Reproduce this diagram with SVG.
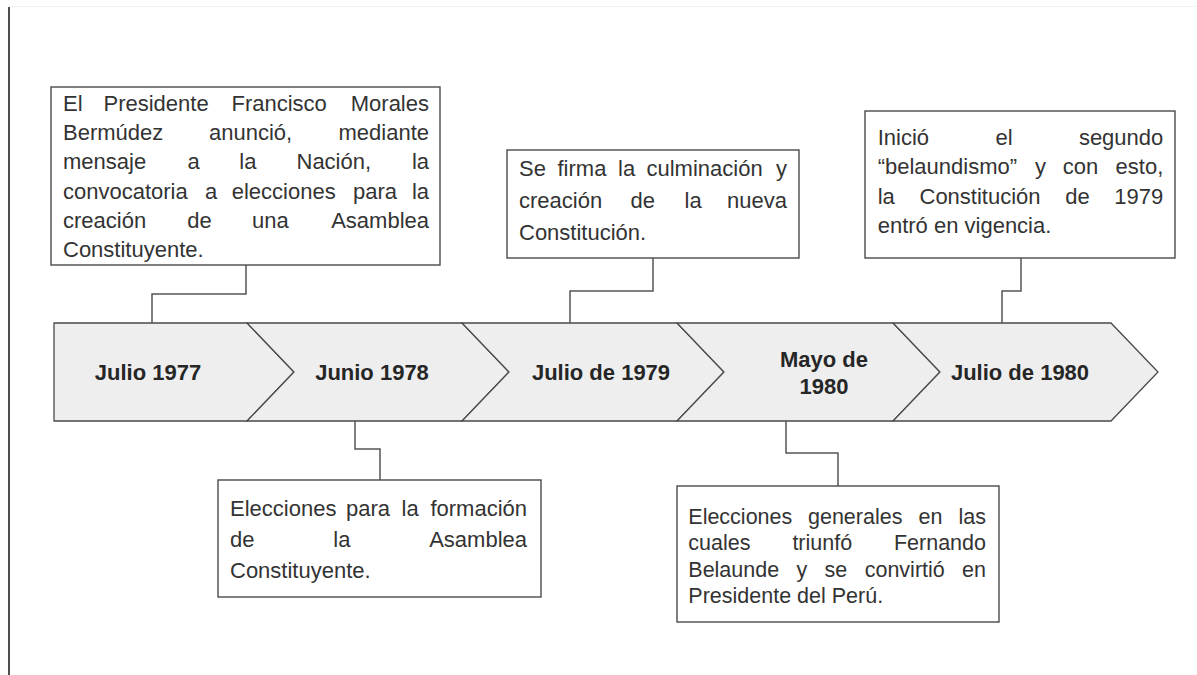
<svg xmlns="http://www.w3.org/2000/svg" width="1197" height="675" viewBox="0 0 1197 675">
<style>
.box{fill:#fff;stroke:#4a4a4a;stroke-width:1.4}
.chev{fill:#eeeeee;stroke:#4a4a4a;stroke-width:1.3;stroke-linejoin:miter}
.con{fill:none;stroke:#555;stroke-width:1.5}
.t{font-family:"Liberation Sans",Arial,sans-serif;font-size:22px;fill:#333}
.s{font-size:21.5px}
.e{text-anchor:end}
.lbl{font-family:"Liberation Sans",Arial,sans-serif;font-size:22px;font-weight:bold;fill:#262626;text-anchor:middle}
</style>
<rect width="1197" height="675" fill="#fff"/>
<line x1="9" y1="6.5" x2="1197" y2="6.5" stroke="#f2f2f2" stroke-width="1"/>
<line x1="9" y1="7" x2="9" y2="675" stroke="#222" stroke-width="1.6"/>

<g id="timeline">
<g id="c1"><path class="chev" d="M54,323 L247,323 L294,372 L247,421 L54,421 Z"/><text class="lbl" x="148" y="380">Julio 1977</text></g>
<g id="c2"><path class="chev" d="M247,323 L462,323 L509,372 L462,421 L247,421 L294,372 Z"/><text class="lbl" x="372" y="380">Junio 1978</text></g>
<g id="c3"><path class="chev" d="M462,323 L677,323 L724,372 L677,421 L462,421 L509,372 Z"/><text class="lbl" x="601" y="380">Julio de 1979</text></g>
<g id="c4"><path class="chev" d="M677,323 L893,323 L940,372 L893,421 L677,421 L724,372 Z"/><text class="lbl" x="824" y="366.5">Mayo de</text><text class="lbl" x="824" y="393.5">1980</text></g>
<g id="c5"><path class="chev" d="M893,323 L1111,323 L1158,372 L1111,421 L893,421 L940,372 Z"/><text class="lbl" x="1020" y="380">Julio de 1980</text></g>
</g>

<g id="connectors">
<polyline class="con" points="246,265 246,294 152,294 152,323"/>
<polyline class="con" points="653,258 653,291 570,291 570,323"/>
<polyline class="con" points="1021,258 1021,291 1002,291 1002,323"/>
<polyline class="con" points="355,421 355,449 380,449 380,480"/>
<polyline class="con" points="786,421 786,453 838,453 838,486"/>
</g>

<g id="box1">
<rect class="box" x="51" y="87" width="389" height="178"/>
<text class="t" y="110.5"><tspan x="63">El</tspan><tspan x="103.5">Presidente</tspan><tspan x="231.5">Francisco</tspan><tspan x="429" class="e">Morales</tspan></text>
<text class="t" y="140"><tspan x="63">Bermúdez</tspan><tspan x="209">anunció,</tspan><tspan x="429" class="e">mediante</tspan></text>
<text class="t" y="169.3"><tspan x="63">mensaje</tspan><tspan x="187.5">a</tspan><tspan x="239.3">la</tspan><tspan x="296.5">Nación,</tspan><tspan x="429" class="e">la</tspan></text>
<text class="t" y="198.6"><tspan x="63">convocatoria</tspan><tspan x="205">a</tspan><tspan x="231.7">elecciones</tspan><tspan x="353">para</tspan><tspan x="429" class="e">la</tspan></text>
<text class="t" y="227.9"><tspan x="63">creación</tspan><tspan x="187.3">de</tspan><tspan x="252">una</tspan><tspan x="429" class="e">Asamblea</tspan></text>
<text class="t" y="257" x="63">Constituyente.</text>
</g>

<g id="box2">
<rect class="box" x="507" y="150" width="292" height="108"/>
<text class="t" y="176"><tspan x="519">Se</tspan><tspan x="557.5">firma</tspan><tspan x="618">la</tspan><tspan x="646.5">culminación</tspan><tspan x="787" class="e">y</tspan></text>
<text class="t" y="208.2"><tspan x="519">creación</tspan><tspan x="630.5">de</tspan><tspan x="684.5">la</tspan><tspan x="787" class="e">nueva</tspan></text>
<text class="t" y="240" x="519">Constitución.</text>
</g>

<g id="box3">
<rect class="box" x="218" y="480" width="323" height="117"/>
<text class="t" y="516"><tspan x="230">Elecciones</tspan><tspan x="346">para</tspan><tspan x="401.5">la</tspan><tspan x="527" class="e">formación</tspan></text>
<text class="t" y="547.3"><tspan x="230">de</tspan><tspan x="333.3">la</tspan><tspan x="527" class="e">Asamblea</tspan></text>
<text class="t" y="578.3" x="230">Constituyente.</text>
</g>

<g id="box4">
<rect class="box" x="677" y="486" width="322" height="136"/>
<text class="t s" y="524.3"><tspan x="688.3">Elecciones</tspan><tspan x="808">generales</tspan><tspan x="918.5">en</tspan><tspan x="986" class="e">las</tspan></text>
<text class="t s" y="550.3"><tspan x="688.3">cuales</tspan><tspan x="792.4">triunfó</tspan><tspan x="986" class="e">Fernando</tspan></text>
<text class="t s" y="576.5"><tspan x="688.3">Belaunde</tspan><tspan x="796.5">y</tspan><tspan x="824.6">se</tspan><tspan x="864.7">convirtió</tspan><tspan x="986" class="e">en</tspan></text>
<text class="t s" y="602.6" x="688.3">Presidente del Perú.</text>
</g>

<g id="box5">
<rect class="box" x="865" y="111" width="310" height="147"/>
<text class="t" y="145"><tspan x="877.7">Inició</tspan><tspan x="995.4">el</tspan><tspan x="1163.3" class="e">segundo</tspan></text>
<text class="t" y="174.3"><tspan x="877.7">“belaundismo”</tspan><tspan x="1035">y</tspan><tspan x="1062.7">con</tspan><tspan x="1163.3" class="e">esto,</tspan></text>
<text class="t" y="203.5"><tspan x="877.7">la</tspan><tspan x="919.5">Constitución</tspan><tspan x="1065.2">de</tspan><tspan x="1163.3" class="e">1979</tspan></text>
<text class="t" y="232.7" x="877.7">entró en vigencia.</text>
</g>
</svg>
